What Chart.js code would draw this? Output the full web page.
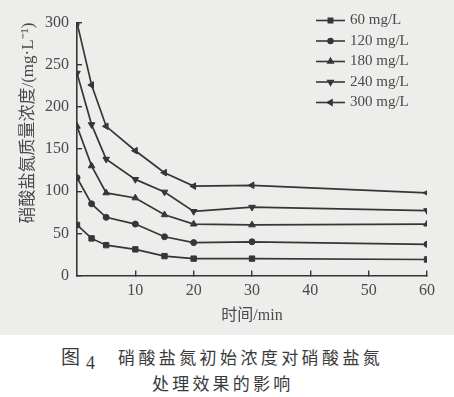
<!DOCTYPE html>
<html>
<head>
<meta charset="utf-8">
<script src="https://cdn.jsdelivr.net/npm/chart.js@4"></script>
<style>
  body { margin: 0; background: #fff; }
  #wrap { position: relative; width: 454px; height: 397px; overflow: hidden; }
  #plot { position: absolute; left: 0; top: 0; width: 454px; height: 335px; background: #ededeb; }
  .cap { position: absolute; font-family: "Noto Sans CJK SC"; color: #3a3a3a; white-space: nowrap; line-height: 20px; }
</style>
</head>
<body>
<div id="wrap">
  <div id="plot"><canvas id="chart" width="454" height="335"></canvas></div>
  <div class="cap" style="left:61px; top:346px; font-size:19px;">图</div>
  <div class="cap" style="left:86px; top:353px; font-size:18px; font-family:'Liberation Serif';">4</div>
  <div class="cap" style="left:118px; top:347px; font-size:17px; letter-spacing:3.4px;">硝酸盐氮初始浓度对硝酸盐氮</div>
  <div class="cap" style="left:152px; top:373px; font-size:17px; letter-spacing:3.2px;">处理效果的影响</div>
</div>
<script>
const times = [0, 2.5, 5, 10, 15, 20, 30, 60];
const labels = ['60 mg/L', '120 mg/L', '180 mg/L', '240 mg/L', '300 mg/L'];
const c60  = [60, 44, 36, 31, 23, 20, 20, 19];
const c120 = [116, 85, 69, 61, 46, 39, 40, 37];
const c180 = [177, 130, 98, 92, 72, 61, 60, 61];
const c240 = [240, 179, 138, 114, 99, 76, 81, 77];
const c300 = [300, 226, 177, 148, 122, 106, 107, 98];
const yTicks = [0, 50, 100, 150, 200, 250, 300];
const xTicks = [10, 20, 30, 40, 50, 60];

const ink = '#363636';
const textInk = '#4a4a4a';
const styles = [
  { pointStyle: 'rect', radius: 3.8, rotation: 0 },
  { pointStyle: 'circle', radius: 3, rotation: 0 },
  { pointStyle: 'triangle', radius: 3.8, rotation: 0 },
  { pointStyle: 'triangle', radius: 3.8, rotation: 180 },
  { pointStyle: 'triangle', radius: 3.8, rotation: 270 }
];

function pts(vals) {
  return vals.map((v, i) => ({ x: times[i], y: v }));
}

const allSeries = [c60, c120, c180, c240, c300];
const datasets = allSeries.map((vals, i) => ({
  label: labels[i],
  data: pts(vals),
  borderColor: ink,
  backgroundColor: ink,
  borderWidth: 1.7,
  pointStyle: styles[i].pointStyle,
  pointRadius: styles[i].radius,
  pointRotation: styles[i].rotation,
  pointBorderWidth: 1,
  tension: 0
}));

// legend drawn inside the plot, top right
const insideLegend = {
  id: 'insideLegend',
  afterDraw(chart) {
    const ctx = chart.ctx;
    ctx.save();
    ctx.font = '15px "Liberation Serif"';
    ctx.textBaseline = 'middle';
    chart.data.datasets.forEach((ds, i) => {
      const y = 20.5 + i * 20.5;
      ctx.strokeStyle = ink;
      ctx.lineWidth = 1.6;
      ctx.beginPath();
      ctx.moveTo(316, y);
      ctx.lineTo(345, y);
      ctx.stroke();
      ctx.fillStyle = ink;
      Chart.helpers.drawPoint(ctx, {
        pointStyle: ds.pointStyle,
        radius: ds.pointRadius * 0.8,
        rotation: ds.pointRotation,
        borderWidth: 1
      }, 330.5, y);
      ctx.fillStyle = textInk;
      ctx.fillText(ds.label, 350, y);
    });
    ctx.restore();
  }
};

new Chart(document.getElementById('chart'), {
  type: 'line',
  data: { datasets: datasets },
  options: {
    responsive: false,
    animation: false,
    layout: { padding: { left: 0, right: 27, top: 14, bottom: 0 } },
    plugins: {
      legend: { display: false },
      tooltip: { enabled: false }
    },
    scales: {
      x: {
        type: 'linear',
        min: 0,
        max: 60,
        afterBuildTicks(scale) {
          scale.ticks = xTicks.map(v => ({ value: v }));
        },
        afterFit(scale) { scale.height = 59.5; },
        border: { color: ink, width: 1.6 },
        grid: { drawOnChartArea: false, drawTicks: true, tickLength: -5, color: ink, lineWidth: 1.4 },
        ticks: {
          padding: 11,
          color: textInk,
          font: { family: 'Liberation Serif', size: 16 },
          maxRotation: 0
        },
        title: {
          display: true,
          text: '时间/min',
          color: textInk,
          font: { family: "'Liberation Serif', 'Noto Sans CJK SC'", size: 16 },
          padding: { top: 0, bottom: 10 }
        }
      },
      y: {
        min: 0,
        max: 300,
        afterBuildTicks(scale) {
          scale.ticks = yTicks.map(v => ({ value: v }));
        },
        afterFit(scale) { scale.width = 77; },
        border: { color: ink, width: 1.6 },
        grid: { drawOnChartArea: false, drawTicks: true, tickLength: -5, color: ink, lineWidth: 1.4 },
        ticks: {
          padding: 13,
          color: textInk,
          font: { family: 'Liberation Serif', size: 16 }
        },
        title: {
          display: true,
          align: 'end',
          text: '硝酸盐氮质量浓度/(mg·L⁻¹)',
          color: textInk,
          font: { family: "'Liberation Serif', 'Noto Sans CJK SC'", size: 17 },
          padding: { top: 18, bottom: 0 }
        }
      }
    }
  },
  plugins: [insideLegend]
});
</script>
</body>
</html>
